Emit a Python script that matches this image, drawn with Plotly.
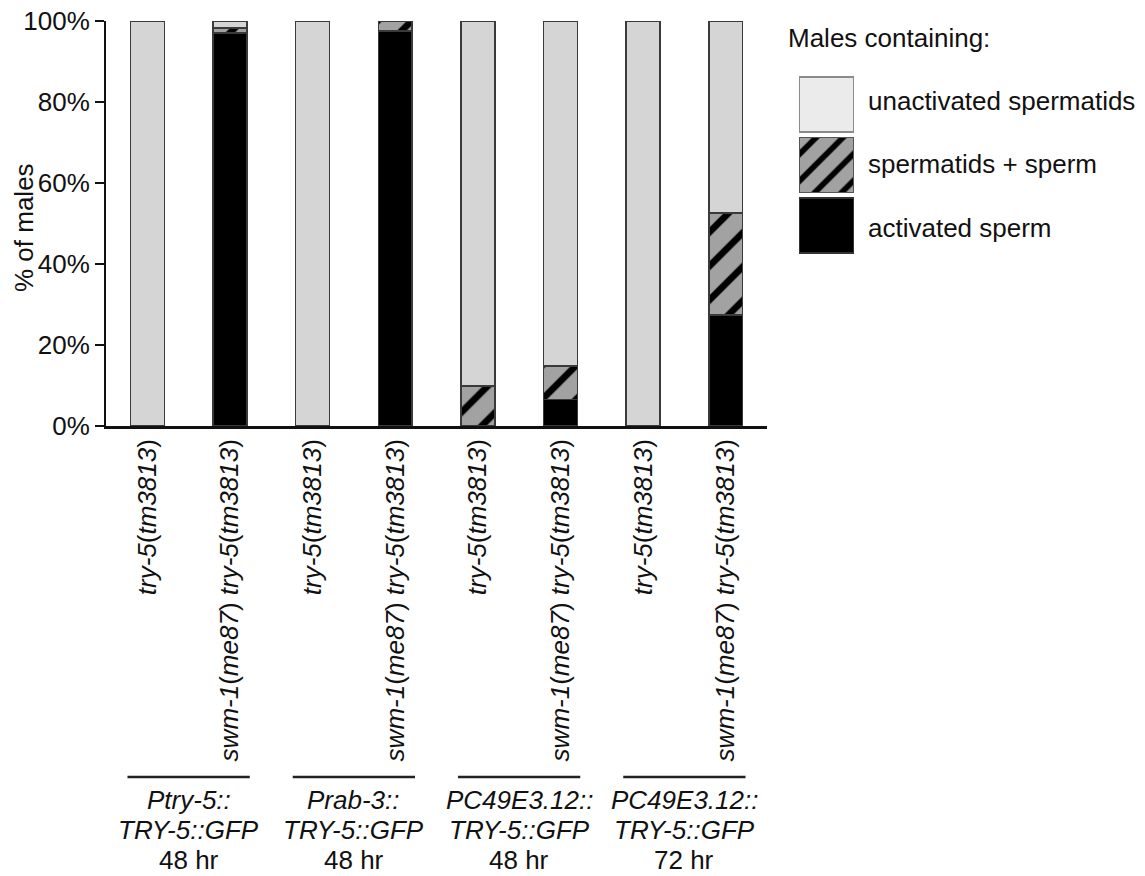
import plotly.graph_objects as go

# ---------------- data ----------------
bar_labels = [
    "<i>try-5</i>(<i>tm3813</i>)",
    "<i>swm-1</i>(<i>me87</i>) <i>try-5</i>(<i>tm3813</i>)",
    "<i>try-5</i>(<i>tm3813</i>)",
    "<i>swm-1</i>(<i>me87</i>) <i>try-5</i>(<i>tm3813</i>)",
    "<i>try-5</i>(<i>tm3813</i>)",
    "<i>swm-1</i>(<i>me87</i>) <i>try-5</i>(<i>tm3813</i>)",
    "<i>try-5</i>(<i>tm3813</i>)",
    "<i>swm-1</i>(<i>me87</i>) <i>try-5</i>(<i>tm3813</i>)",
]
activated_sperm = [0, 97.0, 0, 97.5, 0, 6.5, 0, 27.4]
spermatids_plus_sperm = [0, 1.3, 0, 2.5, 9.9, 8.3, 0, 25.2]
unactivated_spermatids = [100, 1.7, 100, 0, 90.1, 85.2, 100, 47.4]

y_tickvals = [0, 20, 40, 60, 80, 100]
y_ticktext = ["0%", "20%", "40%", "60%", "80%", "100%"]

group_line1 = ["<i>Ptry-5::</i>", "<i>Prab-3::</i>", "<i>PC49E3.12::</i>", "<i>PC49E3.12::</i>"]
group_line2 = ["<i>TRY-5::GFP</i>", "<i>TRY-5::GFP</i>", "<i>TRY-5::GFP</i>", "<i>TRY-5::GFP</i>"]
group_line3 = ["48 hr", "48 hr", "48 hr", "72 hr"]

legend_title = "Males containing:"
legend_labels = ["unactivated spermatids", "spermatids + sperm", "activated sperm"]

# ---------------- style ----------------
W, H = 1145, 876
FONT = "Liberation Sans, Arial, sans-serif"
FS = 26
LIGHT = "#d5d5d5"
HATCH_BG = "#a2a2a2"
EDGE = "#3a3a3a"

xs = list(range(len(bar_labels)))
bw = 0.41


def edge_widths(vals):
    return [1.5 if v > 0 else 0 for v in vals]


fig = go.Figure()
fig.add_trace(go.Bar(x=xs, y=activated_sperm, width=bw, name=legend_labels[2],
                     marker=dict(color="#000000",
                                 line=dict(color=EDGE, width=edge_widths(activated_sperm)))))
fig.add_trace(go.Bar(x=xs, y=spermatids_plus_sperm, width=bw, name=legend_labels[1],
                     marker=dict(color=HATCH_BG,
                                 line=dict(color=EDGE, width=edge_widths(spermatids_plus_sperm)),
                                 pattern=dict(shape="/", fgcolor="#000000", bgcolor=HATCH_BG,
                                              fgopacity=1, size=24, solidity=0.28,
                                              fillmode="overlay"))))
fig.add_trace(go.Bar(x=xs, y=unactivated_spermatids, width=bw, name=legend_labels[0],
                     marker=dict(color=LIGHT,
                                 line=dict(color=EDGE, width=edge_widths(unactivated_spermatids)))))

# legend swatches drawn as bars on a small auxiliary axis pair
swatch_colors = ["#ebebeb", HATCH_BG, "#000000"]
swatch_edges = ["#8a8a8a", "#555555", "#333333"]
swatch_shapes = ["", "/", ""]
for i in range(3):
    fig.add_trace(go.Bar(
        x=[1], y=[i], orientation="h", width=0.906,
        xaxis="x2", yaxis="y2", showlegend=False, hoverinfo="skip",
        marker=dict(color=swatch_colors[i],
                    line=dict(color=swatch_edges[i], width=1.5),
                    pattern=dict(shape=swatch_shapes[i], fgcolor="#000000",
                                 bgcolor=HATCH_BG, fgopacity=1, size=19,
                                 solidity=0.3, fillmode="overlay")),
    ))

x0p, x1p = 106 / W, 767 / W
y0p, y1p = 1 - 426 / H, 1 - 21 / H

fig.update_layout(
    width=W, height=H,
    margin=dict(l=0, r=0, t=0, b=0, pad=0, autoexpand=False),
    barmode="stack",
    showlegend=False,
    plot_bgcolor="white", paper_bgcolor="white",
    font=dict(family=FONT, size=FS, color="#111111"),
    xaxis=dict(domain=[x0p, x1p], range=[-0.5, 7.5], tickmode="array",
               tickvals=xs, ticktext=bar_labels, tickangle=-90,
               showline=True, linecolor="#111111", linewidth=2.5,
               ticks="", showgrid=False, zeroline=False, automargin=False,
               ticklabelstandoff=0, tickfont=dict(size=FS)),
    yaxis=dict(domain=[y0p, y1p], range=[0, 100], tickmode="array",
               tickvals=y_tickvals, ticktext=y_ticktext,
               ticks="outside", ticklen=9, tickwidth=2, tickcolor="#111111",
               showline=True, linecolor="#111111", linewidth=2, automargin=False,
               showgrid=False, zeroline=False, tickfont=dict(size=FS)),
    xaxis2=dict(domain=[799 / W, 854 / W], range=[0, 1], visible=False, anchor="y2",
                automargin=False),
    yaxis2=dict(domain=[1 - 256 / H, 1 - 74 / H], range=[2.5, -0.5], visible=False,
                anchor="x2", automargin=False),
)

# y axis title
fig.add_annotation(text="% of males", x=24 / W, y=1 - 228 / H, xref="paper", yref="paper",
                   textangle=-90, showarrow=False, font=dict(size=FS),
                   xanchor="center", yanchor="middle")

# group brackets and labels
for g in range(4):
    c = 2 * g + 0.5
    fig.add_shape(type="line", xref="x", yref="paper", x0=c - 0.74, x1=c + 0.74,
                  y0=1 - 777 / H, y1=1 - 777 / H, line=dict(color="#222222", width=2.5))
    for txt, ypix in ((group_line1[g], 800), (group_line2[g], 830), (group_line3[g], 860)):
        fig.add_annotation(text=txt, x=c, y=1 - ypix / H, xref="x", yref="paper",
                           showarrow=False, font=dict(size=FS),
                           xanchor="center", yanchor="middle")

# legend texts
fig.add_annotation(text=legend_title, x=786 / W, y=1 - 38 / H, xref="paper", yref="paper",
                   showarrow=False, xanchor="left", yanchor="middle", font=dict(size=FS))
for lbl, ypix in zip(legend_labels, (101, 164, 228)):
    fig.add_annotation(text=lbl, x=866 / W, y=1 - ypix / H, xref="paper", yref="paper",
                       showarrow=False, xanchor="left", yanchor="middle", font=dict(size=FS))

fig.write_html("out.html")
